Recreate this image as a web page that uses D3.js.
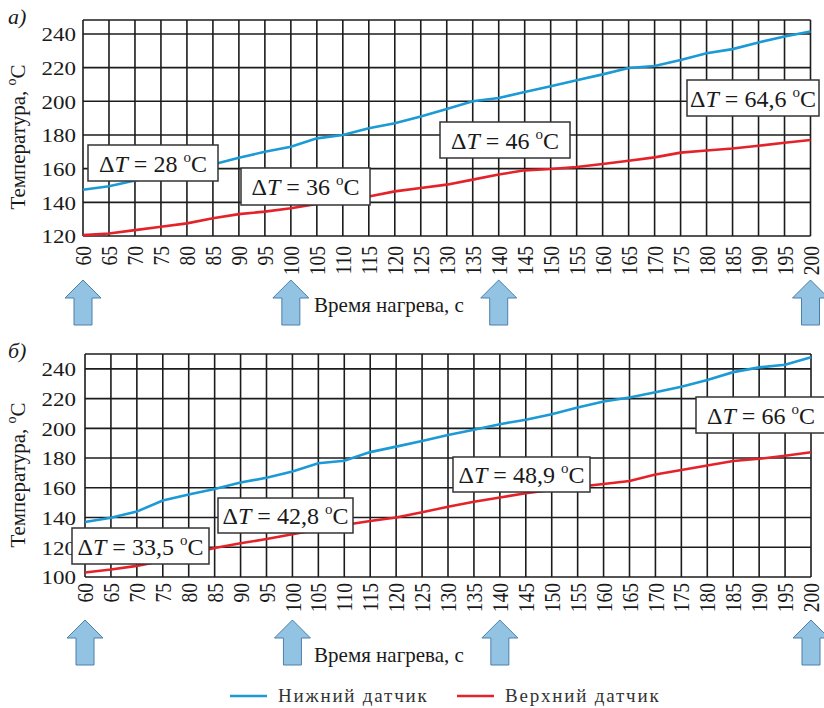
<!DOCTYPE html>
<html>
<head>
<meta charset="utf-8">
<script src="https://cdn.jsdelivr.net/npm/d3@7"></script>
<style>
  body { margin: 0; background: #fff; }
  svg { display: block; }
  svg text { font-family: "Liberation Serif", "DejaVu Serif", "Times New Roman", serif; }
</style>
</head>
<body>
<div id="chart"></div>
<script>
// time axis (s), shared by both panels
const times = [60, 65, 70, 75, 80, 85, 90, 95, 100, 105, 110, 115, 120, 125, 130,
               135, 140, 145, 150, 155, 160, 165, 170, 175, 180, 185, 190, 195, 200];

// panel a) temperatures, deg C
const lowerA = [147.5, 149.5, 153, 155.5, 158.5, 162.5, 166.5, 170, 173, 178, 180, 184, 187, 191, 195.5,
                200, 202, 205.5, 209, 212.5, 216, 219.8, 221, 224.5, 228.5, 231, 235, 238.5, 241.5];
const upperA = [120.5, 121.5, 123.5, 125.5, 127.5, 130.5, 133, 134.5, 136.5, 139, 141, 143.5, 146.5, 148.5, 150.5,
                153.5, 156.5, 159, 159.8, 161, 162.8, 164.7, 166.7, 169.5, 170.8, 172, 173.6, 175.4, 177];

// panel б) temperatures, deg C
const lowerB = [137, 139.8, 144, 151.5, 155.5, 159.2, 163.5, 166.8, 171, 176.5, 178.2, 184, 187.7, 191.5, 195.5,
                199, 202.8, 205.8, 209.5, 214, 218, 220.8, 224.3, 228, 232.5, 237.8, 241, 242.8, 247.8];
const upperB = [103, 105, 107.5, 111, 115.5, 119.5, 122.7, 125.5, 128.8, 132, 135, 137.7, 140, 143.5, 147.2,
                150.6, 153.5, 156.3, 158.5, 160.6, 162.6, 164.6, 169, 172, 175, 178, 179.5, 181.6, 183.9];

const yTicksA = [120, 140, 160, 180, 200, 220, 240];
const yTicksB = [100, 120, 140, 160, 180, 200, 220, 240];

const deltaA = ["28", "36", "46", "64,6"];
const deltaB = ["33,5", "42,8", "48,9", "66"];

const arrowTimes = [60, 100, 140, 200];
const seriesNames = ["Нижний датчик", "Верхний датчик"];

const BLUE = "#1b9ad6", RED = "#e4222a";
const FONT = "Liberation Serif, DejaVu Serif, Times New Roman, serif";
const SX = 1.18; // tick digits look a bit wide in the original

const svg = d3.select("#chart").append("svg")
  .attr("width", 824).attr("height", 708)
  .attr("font-family", FONT);

// layout of the two panels
const panels = [
  { letter: "а)", letterY: 24, left: 83, right: 810.5, top: 20, bottom: 236, yMin: 120, yMax: 248.3,
    ticks: yTicksA, lower: lowerA, upper: upperA, deltas: deltaA,
    labelGap: 10, titleY: 312, arrowTop: 280, yTitleY: 137,
    boxes: [[88, 145, 130, 36], [241, 168, 129, 37], [440, 122, 130, 36], [687, 80, 132, 36]] },
  { letter: "б)", letterY: 358, left: 85, right: 811, top: 354, bottom: 577, yMin: 100, yMax: 250,
    ticks: yTicksB, lower: lowerB, upper: upperB, deltas: deltaB,
    labelGap: 6, titleY: 662, arrowTop: 620, yTitleY: 475,
    boxes: [[72, 528, 137, 36], [218, 498, 135, 35], [453, 457, 137, 35], [696, 397, 130, 36]] }
];

function drawPanel(p) {
  const x = d3.scaleLinear().domain([60, 200]).range([p.left, p.right]);
  const y = d3.scaleLinear().domain([p.yMin, p.yMax]).range([p.bottom, p.top]);
  const g = svg.append("g");

  // grid
  g.selectAll(".vg").data(times).enter().append("line")
    .attr("x1", d => x(d)).attr("x2", d => x(d))
    .attr("y1", p.top).attr("y2", p.bottom)
    .attr("stroke", "#1c1c1c").attr("stroke-width", 1.6);
  g.selectAll(".hg").data(p.ticks.concat([p.yMax])).enter().append("line")
    .attr("x1", p.left).attr("x2", p.right)
    .attr("y1", d => y(d)).attr("y2", d => y(d))
    .attr("stroke", "#1c1c1c").attr("stroke-width", 1.6);

  // series
  const line = d3.line().x((d, i) => x(times[i])).y(d => y(d));
  g.append("path").datum(p.lower).attr("d", line)
    .attr("fill", "none").attr("stroke", BLUE).attr("stroke-width", 2.6);
  g.append("path").datum(p.upper).attr("d", line)
    .attr("fill", "none").attr("stroke", RED).attr("stroke-width", 2.6);

  // y axis labels
  const ya = g.append("g").attr("transform", `translate(${p.left},0)`)
    .call(d3.axisLeft(y).tickValues(p.ticks).tickSize(0))
    .attr("font-family", FONT);
  ya.select(".domain").remove();
  ya.selectAll("text")
    .attr("x", -(p.left - 76) / SX).attr("dy", "0.35em")
    .attr("transform", `scale(${SX},1)`)
    .attr("font-size", 19.5).attr("fill", "#1a1a1a");

  // x axis labels, rotated
  const xa = g.append("g").attr("transform", `translate(0,${p.bottom})`)
    .call(d3.axisBottom(x).tickValues(times).tickSize(0))
    .attr("font-family", FONT);
  xa.select(".domain").remove();
  xa.selectAll("text")
    .attr("y", 0).attr("x", -p.labelGap).attr("dy", "0.33em")
    .attr("text-anchor", "end")
    .attr("transform", `rotate(-90) scale(1,${SX})`)
    .attr("font-size", 19.5).attr("fill", "#1a1a1a");

  // axis titles
  const yt = g.append("text")
    .attr("transform", `translate(25,${p.yTitleY}) rotate(-90)`)
    .attr("text-anchor", "middle").attr("font-size", 21).attr("fill", "#1a1a1a");
  yt.append("tspan").text("Температура, ");
  yt.append("tspan").text("o").attr("font-size", 14).attr("dy", -9);
  yt.append("tspan").text("C").attr("dy", 9);

  g.append("text").attr("x", 389).attr("y", p.titleY)
    .attr("text-anchor", "middle").attr("font-size", 21).attr("fill", "#1a1a1a")
    .text("Время нагрева, с");

  // panel letter
  g.append("text").attr("x", 8).attr("y", p.letterY)
    .attr("font-size", 22).attr("font-style", "italic").attr("fill", "#1a1a1a")
    .text(p.letter);

  // arrows under marked times
  g.selectAll(".arrow").data(arrowTimes).enter().append("path")
    .attr("d", t => {
      const cx = x(t), ty = p.arrowTop;
      return `M${cx},${ty} L${cx + 18},${ty + 18} L${cx + 9},${ty + 18} L${cx + 9},${ty + 45}` +
             ` L${cx - 9},${ty + 45} L${cx - 9},${ty + 18} L${cx - 18},${ty + 18} Z`;
    })
    .attr("fill", "#93c3e3").attr("stroke", "#4d7fab").attr("stroke-width", 1);

  // delta-T boxes
  p.boxes.forEach((b, i) => {
    g.append("rect").attr("x", b[0]).attr("y", b[1]).attr("width", b[2]).attr("height", b[3])
      .attr("fill", "#fff").attr("stroke", "#333").attr("stroke-width", 1.5);
    const t = g.append("text").attr("x", b[0] + b[2] / 2).attr("y", b[1] + b[3] / 2 + 8.5)
      .attr("text-anchor", "middle").attr("font-size", 24).attr("fill", "#1a1a1a");
    t.append("tspan").text("Δ");
    t.append("tspan").text("T").attr("font-style", "italic");
    t.append("tspan").text(" = " + p.deltas[i] + " ");
    t.append("tspan").text("o").attr("font-size", 15).attr("dy", -10);
    t.append("tspan").text("C").attr("dy", 10);
  });
}

panels.forEach(drawPanel);

// legend
const legend = svg.append("g").attr("transform", "translate(230,696)");
const lg = legend.selectAll("g").data(seriesNames).enter().append("g")
  .attr("transform", (d, i) => `translate(${i * 227},0)`);
lg.append("line").attr("x1", 0).attr("x2", 37).attr("y1", 0).attr("y2", 0)
  .attr("stroke", (d, i) => i === 0 ? BLUE : RED).attr("stroke-width", 2.6);
lg.append("text").attr("x", 48).attr("y", 6)
  .attr("font-size", 19).attr("letter-spacing", 1.8).attr("fill", "#333")
  .text(d => d);
</script>
</body>
</html>
